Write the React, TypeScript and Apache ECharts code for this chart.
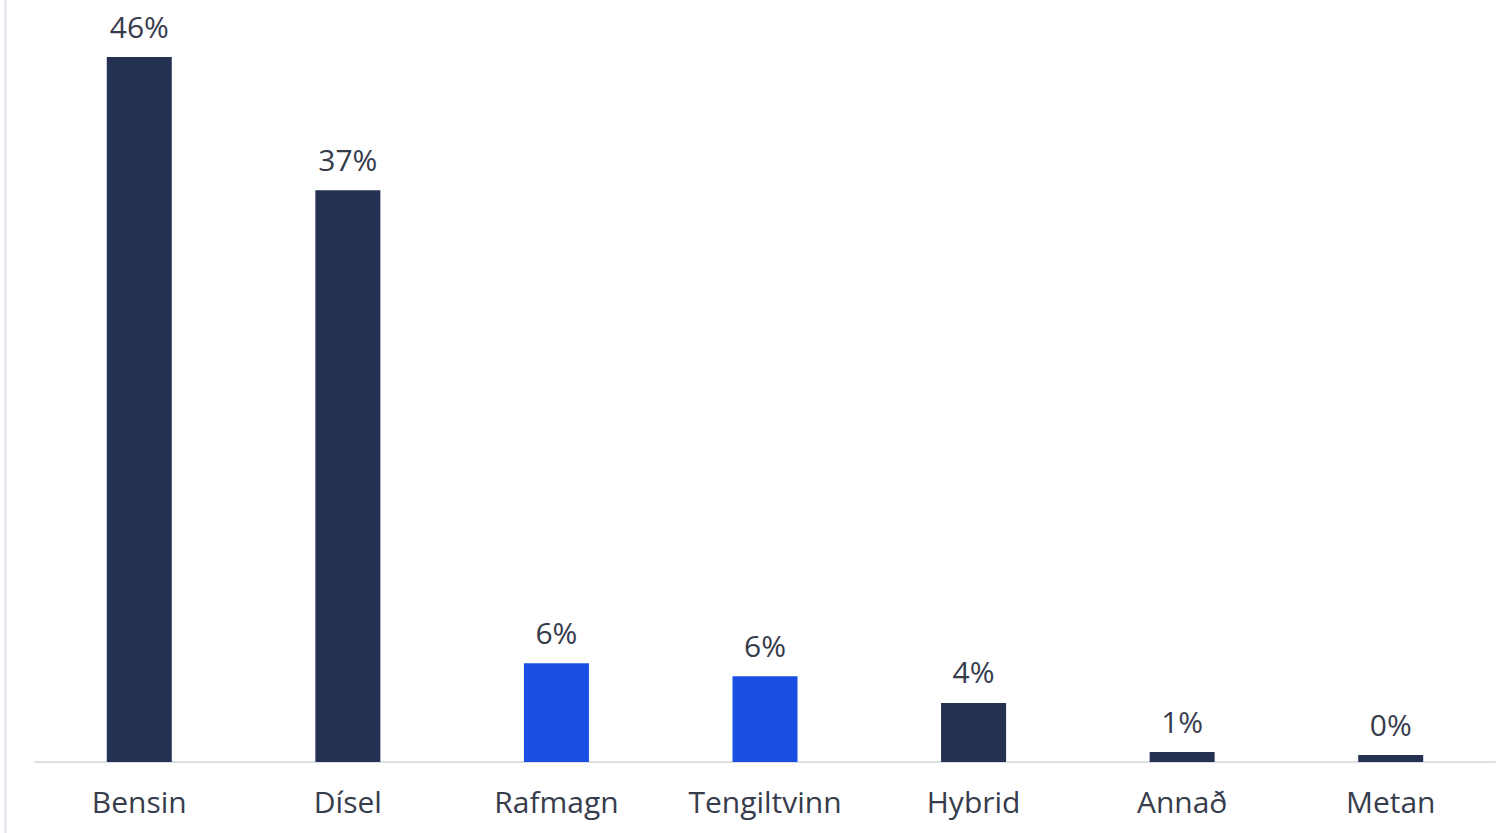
import React, { useEffect, useRef } from "react";
import * as echarts from "echarts";

const categories = ["Bensin", "Dísel", "Rafmagn", "Tengiltvinn", "Hybrid", "Annað", "Metan"];
const values = [46, 37.3, 6.45, 5.6, 3.85, 0.65, 0.45];
const barColors = ["#253152", "#253152", "#1a4fe3", "#1a4fe3", "#253152", "#253152", "#253152"];

export default function App() {
  const ref = useRef<HTMLDivElement>(null);
  useEffect(() => {
    if (!ref.current) return;
    const chart = echarts.init(ref.current, undefined, { renderer: "svg" });
    chart.setOption({
      animation: false,
      backgroundColor: "#ffffff",
      grid: { left: 35, right: 14, top: 57, bottom: 71, containLabel: false },
      graphic: [
        { type: "rect", left: 4, top: 0, shape: { width: 3, height: 833 }, style: { fill: "#e9eaef" } },
      ],
      xAxis: {
        type: "category",
        data: categories,
        axisLine: { show: true, lineStyle: { color: "#dcdfe6", width: 2 } },
        axisTick: { show: false },
        axisLabel: {
          fontFamily: "Open Sans",
          fontSize: 30,
          color: "#373c4d",
          margin: 24,
        },
      },
      yAxis: {
        type: "value",
        min: 0,
        max: 46,
        show: false,
        splitLine: { show: false },
      },
      series: [
        {
          type: "bar",
          barWidth: 65,
          data: values.map((v, i) => ({ value: v, itemStyle: { color: barColors[i] } })),
          label: {
            show: true,
            position: "top",
            distance: 16,
            fontFamily: "Open Sans",
            fontSize: 30,
            color: "#373c4d",
            formatter: (p: any) => Math.round(p.value) + "%",
          },
        },
      ],
    });
    return () => chart.dispose();
  }, []);
  return (
    <div
      ref={ref}
      style={{ position: "absolute", left: 0, top: 0, width: 1509, height: 833 }}
    />
  );
}
